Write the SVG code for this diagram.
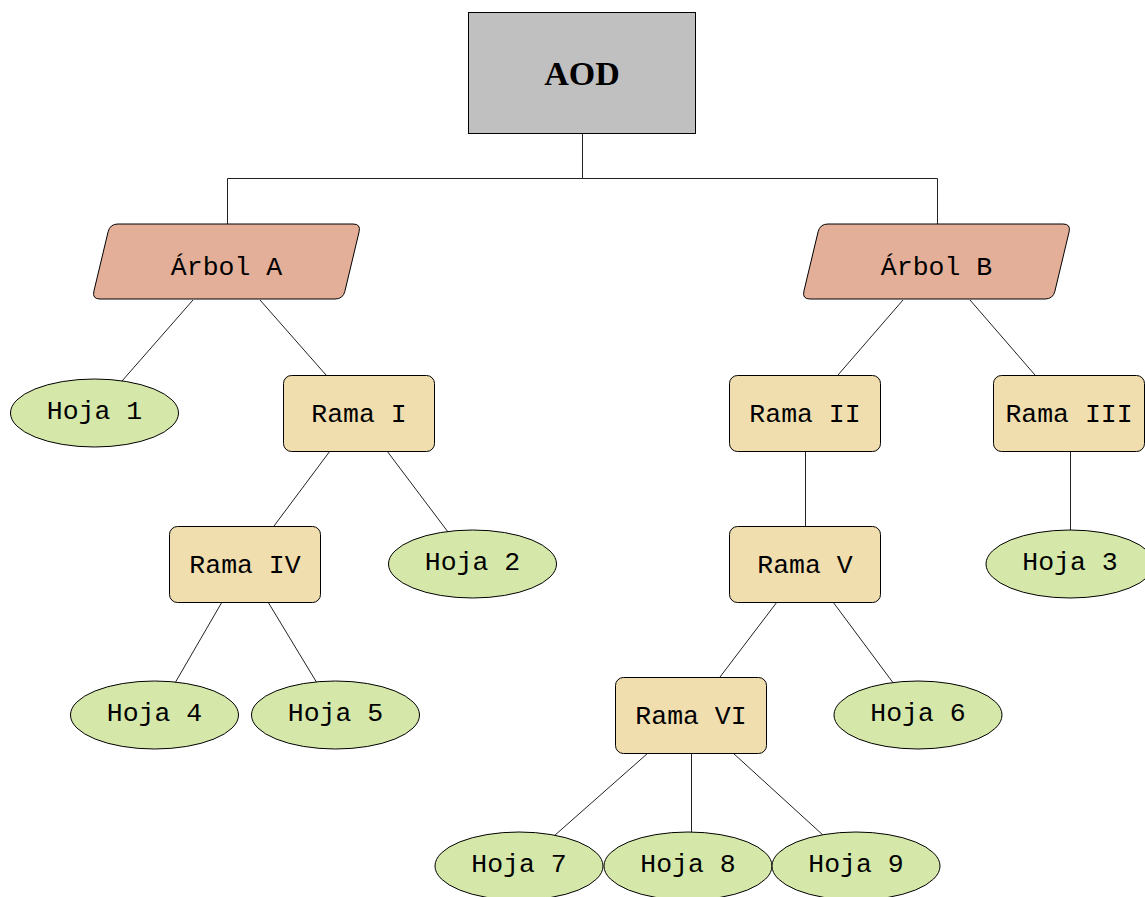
<svg xmlns="http://www.w3.org/2000/svg" width="1145" height="897" viewBox="0 0 1145 897">
  <style>
    .edge { fill: none; stroke: #222; stroke-width: 1; }
    .root { fill: #c0c0c0; stroke: #000; stroke-width: 1; }
    .tree { fill: #e4af98; stroke: #000; stroke-width: 1; }
    .branch { fill: #f1deaf; stroke: #000; stroke-width: 1; }
    .leaf { fill: #d5e8a9; stroke: #000; stroke-width: 1; }
    .mono { font-family: "Liberation Mono", "DejaVu Sans Mono", monospace; font-size: 26.5px; fill: #000; text-anchor: middle; }
    .title { font-family: "Liberation Serif", "DejaVu Serif", serif; font-weight: bold; font-size: 34px; fill: #000; text-anchor: middle; }
  </style>
  <defs>
    <path id="para" d="M118,224 H353 Q361,224 359.1,231.8 L344.9,291.2 Q343,299 335,299 H100 Q92,299 93.9,291.2 L108.1,231.8 Q110,224 118,224 Z"/>
  </defs>

  <rect width="1145" height="897" fill="#fff"/>

  <g id="connectors">
    <path class="edge" d="M582.5,133 V178.5 H227.5 V224"/>
    <path class="edge" d="M582.5,133 V178.5 H937.5 V224"/>
    <line class="edge" x1="193" y1="300" x2="122" y2="381"/>
    <line class="edge" x1="260" y1="300" x2="326" y2="375"/>
    <line class="edge" x1="903" y1="300" x2="838" y2="375"/>
    <line class="edge" x1="970" y1="300" x2="1035" y2="375"/>
    <line class="edge" x1="330" y1="451" x2="274" y2="526"/>
    <line class="edge" x1="387" y1="451" x2="448" y2="532"/>
    <line class="edge" x1="805.5" y1="451" x2="805.5" y2="526"/>
    <line class="edge" x1="1070.5" y1="451" x2="1070.5" y2="531"/>
    <line class="edge" x1="222" y1="602" x2="175" y2="683"/>
    <line class="edge" x1="268" y1="602" x2="317" y2="683"/>
    <line class="edge" x1="777" y1="602" x2="720" y2="677"/>
    <line class="edge" x1="833" y1="602" x2="894" y2="684"/>
    <line class="edge" x1="648" y1="753" x2="554" y2="836"/>
    <line class="edge" x1="691.5" y1="753" x2="691.5" y2="833"/>
    <line class="edge" x1="733" y1="753" x2="824" y2="836"/>
  </g>

  <g id="aod">
    <rect class="root" x="468.5" y="12.5" width="227" height="121"/>
    <text class="title" x="582" y="85">AOD</text>
  </g>

  <g id="arbol-a">
    <use href="#para" class="tree"/>
    <text class="mono" x="226.5" y="275">Árbol A</text>
  </g>
  <g id="arbol-b">
    <use href="#para" class="tree" transform="translate(710,0)"/>
    <text class="mono" x="936.5" y="275">Árbol B</text>
  </g>

  <g id="rama-i">
    <rect class="branch" x="283.5" y="375.5" width="151" height="76" rx="8"/>
    <text class="mono" x="359" y="422">Rama I</text>
  </g>
  <g id="rama-ii">
    <rect class="branch" x="729.5" y="375.5" width="151" height="76" rx="8"/>
    <text class="mono" x="805" y="422">Rama II</text>
  </g>
  <g id="rama-iii">
    <rect class="branch" x="993.5" y="375.5" width="151" height="76" rx="8"/>
    <text class="mono" x="1069" y="422">Rama III</text>
  </g>
  <g id="rama-iv">
    <rect class="branch" x="169.5" y="526.5" width="151" height="76" rx="8"/>
    <text class="mono" x="245" y="573">Rama IV</text>
  </g>
  <g id="rama-v">
    <rect class="branch" x="729.5" y="526.5" width="151" height="76" rx="8"/>
    <text class="mono" x="805" y="573">Rama V</text>
  </g>
  <g id="rama-vi">
    <rect class="branch" x="615.5" y="677.5" width="151" height="76" rx="8"/>
    <text class="mono" x="691" y="724">Rama VI</text>
  </g>

  <g id="hoja-1">
    <ellipse class="leaf" cx="94.5" cy="413" rx="84" ry="34"/>
    <text class="mono" x="94.5" y="419">Hoja 1</text>
  </g>
  <g id="hoja-2">
    <ellipse class="leaf" cx="472.5" cy="564" rx="84" ry="34"/>
    <text class="mono" x="472.5" y="570">Hoja 2</text>
  </g>
  <g id="hoja-3">
    <ellipse class="leaf" cx="1070" cy="564" rx="84" ry="34"/>
    <text class="mono" x="1070" y="570">Hoja 3</text>
  </g>
  <g id="hoja-4">
    <ellipse class="leaf" cx="154.5" cy="715" rx="84" ry="34"/>
    <text class="mono" x="154.5" y="721">Hoja 4</text>
  </g>
  <g id="hoja-5">
    <ellipse class="leaf" cx="335.5" cy="715" rx="84" ry="34"/>
    <text class="mono" x="335.5" y="721">Hoja 5</text>
  </g>
  <g id="hoja-6">
    <ellipse class="leaf" cx="918" cy="715" rx="84" ry="34"/>
    <text class="mono" x="918" y="721">Hoja 6</text>
  </g>
  <g id="hoja-7">
    <ellipse class="leaf" cx="519" cy="866" rx="84" ry="34"/>
    <text class="mono" x="519" y="872">Hoja 7</text>
  </g>
  <g id="hoja-8">
    <ellipse class="leaf" cx="688" cy="866" rx="84" ry="34"/>
    <text class="mono" x="688" y="872">Hoja 8</text>
  </g>
  <g id="hoja-9">
    <ellipse class="leaf" cx="856" cy="866" rx="84" ry="34"/>
    <text class="mono" x="856" y="872">Hoja 9</text>
  </g>
</svg>
